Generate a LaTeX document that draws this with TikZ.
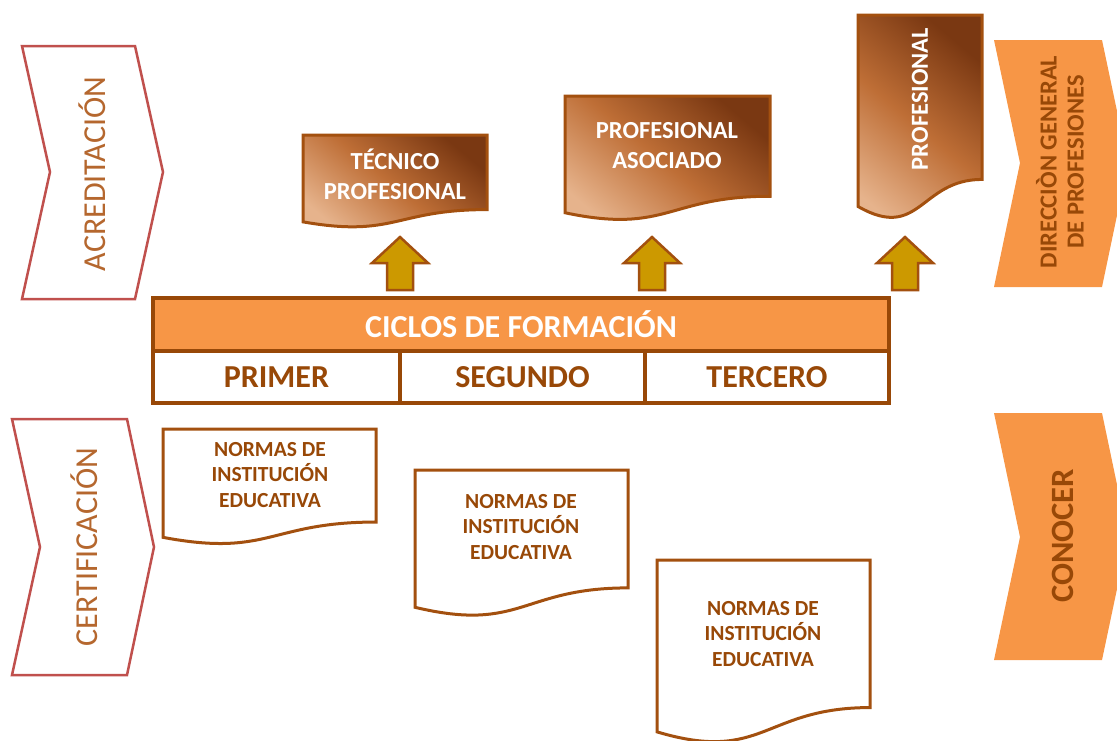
\documentclass[tikz,border=0pt]{standalone}
\usepackage{fontspec}
\setmainfont{Carlito}
\usetikzlibrary{calc}
\definecolor{brn}{HTML}{984807}
\definecolor{docb}{HTML}{A3500F}
\definecolor{orng}{HTML}{F79646}
\definecolor{chred}{HTML}{C0504D}
\definecolor{gold}{HTML}{CC9900}
\definecolor{chtext}{HTML}{B5672E}
\definecolor{gdark}{HTML}{7A3812}
\definecolor{gmid}{HTML}{BE6E36}
\definecolor{glight}{HTML}{E6B38C}
\newcommand\docshape[5]{%
 \pgfmathsetmacro\xa{#2}\pgfmathsetmacro\xb{#2+#4}\pgfmathsetmacro\xm{#2+#4/2}%
 \pgfmathsetmacro\ya{#3}\pgfmathsetmacro\yr{#3+0.802*#5}\pgfmathsetmacro\yc{#3+1.107*#5}\pgfmathsetmacro\yl{#3+0.934*#5}%
 \path[#1] (\xa,\ya) -- (\xb,\ya) -- (\xb,\yr) .. controls (\xm,\yr) and (\xm,\yc) .. (\xa,\yl) -- cycle;}
\newcommand\myuparr[1]{%
 \draw[arr] (#1,237) -- (#1+28,263) -- (#1+13,263) -- (#1+13,290) -- (#1-13,290) -- (#1-13,263) -- (#1-28,263) -- cycle;}
\tikzset{
 chev/.style={draw=chred, line width=2.5, fill=white},
 chevf/.style={fill=orng},
 topdoc/.style={draw=docb, line width=3, top color=gdark, bottom color=glight, middle color=gmid, shading angle=-40},
 botdoc/.style={draw=docb, line width=3, fill=white},
 arr/.style={draw=docb, line width=2.5, fill=gold, line join=miter},
 cell/.style={draw=brn, line width=4, text=brn, font=\bfseries\fontsize{32}{38}\selectfont, inner sep=0},
 toptxt/.style={text=white, font=\bfseries\fontsize{24.5}{30}\selectfont, align=center},
 bottxt/.style={text=brn, font=\bfseries\fontsize{21.5}{25.5}\selectfont, align=center},
 sidetxt/.style={text=chtext, font=\fontsize{32}{38}\selectfont, rotate=90},
 sidebold/.style={text=brn, font=\bfseries\fontsize{24.5}{27}\selectfont, rotate=90, align=center},
}
\begin{document}
\begin{tikzpicture}[x=1pt,y=-1pt]
\useasboundingbox (0,0) rectangle (1117,740);
\clip (0,0) rectangle (1117,740);
% side chevrons
\draw[chev] (22,46) -- (135,46) -- (163,172) -- (135,299) -- (22,299) -- (50,172) -- cycle;
\node[sidetxt] (acred) at (92,174) {ACREDITACIÓN};
\draw[chev] (12,419) -- (127,419) -- (154,547) -- (127,675) -- (12,675) -- (40,547) -- cycle;
\node[sidetxt] (certif) at (84,547) {CERTIFICACIÓN};
\fill[chevf] (994,40) -- (1102,40) -- (1128,163) -- (1102,287) -- (994,287) -- (1020,163) -- cycle;
\node[sidebold] (dgp) at (1060,162) {DIRECCIÒN GENERAL\\DE PROFESIONES};
\fill[chevf] (994,413) -- (1102,413) -- (1128,537) -- (1102,660) -- (994,660) -- (1020,537) -- cycle;
\node[sidebold, font=\bfseries\fontsize{32.5}{38}\selectfont] (conocer) at (1063,536) {CONOCER};
% top documents
\docshape{topdoc}{303}{135}{184}{93}
\node[toptxt] (tec) at (395,174) {TÉCNICO\\PROFESIONAL};
\docshape{topdoc}{565}{96}{205}{125}
\node[toptxt] (asoc) at (667,146) {PROFESIONAL\\ASOCIADO};
\docshape{topdoc}{858}{15}{124}{205}
\node[toptxt, rotate=90] (prof) at (920,99) {PROFESIONAL};
% arrows
\myuparr{400}
\myuparr{652}
\myuparr{905}
% table
\node[cell, fill=orng, text=white, minimum width=736, minimum height=53] (hdr) at (521,324.5) {CICLOS DE FORMACIÓN};
\node[cell, fill=white, minimum width=247, minimum height=52] (c1) at (276.5,377) {PRIMER};
\node[cell, fill=white, minimum width=245, minimum height=52] (c2) at (522.5,377) {SEGUNDO};
\node[cell, fill=white, minimum width=244, minimum height=52] (c3) at (767,377) {TERCERO};
% bottom documents
\docshape{botdoc}{163}{429}{213}{116}
\node[bottxt] (n1) at (270,475) {NORMAS DE\\INSTITUCIÓN\\EDUCATIVA};
\docshape{botdoc}{415}{470}{213}{147}
\node[bottxt] (n2) at (521,527) {NORMAS DE\\INSTITUCIÓN\\EDUCATIVA};
\docshape{botdoc}{657}{560}{213}{184}
\node[bottxt] (n3) at (763,634) {NORMAS DE\\INSTITUCIÓN\\EDUCATIVA};
\end{tikzpicture}
\end{document}
